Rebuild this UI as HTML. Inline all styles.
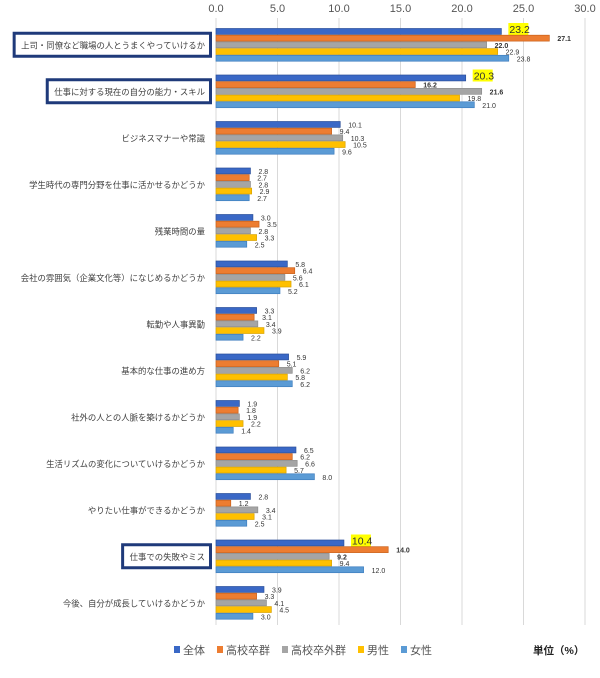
<!DOCTYPE html>
<html><head><meta charset="utf-8">
<style>
body{margin:0;background:#fff;width:600px;height:673px;overflow:hidden;font-family:"Liberation Sans","Noto Sans CJK JP",sans-serif}
svg text{font-family:"Liberation Sans","Noto Sans CJK JP",sans-serif}
</style></head>
<body>
<svg id="chart" width="600" height="673" xmlns="http://www.w3.org/2000/svg"></svg>
<script>
const categories=["上司・同僚など職場の人とうまくやっていけるか","仕事に対する現在の自分の能力・スキル","ビジネスマナーや常識","学生時代の専門分野を仕事に活かせるかどうか","残業時間の量","会社の雰囲気（企業文化等）になじめるかどうか","転勤や人事異動","基本的な仕事の進め方","社外の人との人脈を築けるかどうか","生活リズムの変化についていけるかどうか","やりたい仕事ができるかどうか","仕事での失敗やミス","今後、自分が成長していけるかどうか"];
const seriesNames=["全体","高校卒群","高校卒外群","男性","女性"];
const s0=[23.2,20.3,10.1,2.8,3.0,5.8,3.3,5.9,1.9,6.5,2.8,10.4,3.9];
const s1=[27.1,16.2,9.4,2.7,3.5,6.4,3.1,5.1,1.8,6.2,1.2,14.0,3.3];
const s2=[22.0,21.6,10.3,2.8,2.8,5.6,3.4,6.2,1.9,6.6,3.4,9.2,4.1];
const s3=[22.9,19.8,10.5,2.9,3.3,6.1,3.9,5.8,2.2,5.7,3.1,9.4,4.5];
const s4=[23.8,21.0,9.6,2.7,2.5,5.2,2.2,6.2,1.4,8.0,2.5,12.0,3.0];
const ticks=[0,5,10,15,20,25,30];
const boxed=[0,1,11];
const series=[s0,s1,s2,s3,s4];
const fills=["#3a68c6","#ed7d31","#a5a5a5","#ffc000","#5b9bd5"];
const strokes=["#2a4f9a","#c9611b","#8c8c8c","#d9a300","#3f7fbf"];
const NS="http://www.w3.org/2000/svg";
const svg=document.getElementById('chart');
const x=v=>216+v*12.3;
const groupY=i=>28+i*46.5;
const barH=6.7;
function el(t,a,txt){const e=document.createElementNS(NS,t);for(const k in a)e.setAttribute(k,a[k]);if(txt!=null)e.textContent=txt;svg.appendChild(e);return e;}
ticks.forEach(t=>{
  const g=el('line',{x1:x(t),x2:x(t),y1:18,y2:625,stroke:'#d9d9d9','stroke-width':1});
  
  
  const l=el('text',{x:x(t),y:12,'text-anchor':'middle','font-size':11,fill:'#555'},t.toFixed(1));
  
  
});
categories.forEach((c,i)=>{
  const gy=groupY(i);
  const cy=gy+2.5*barH;
  let b=null;
  if(boxed.includes(i)){
    b=el('rect',{x:0,y:cy-11.5,width:10,height:23,fill:'#fff',stroke:'#1f3a7a','stroke-width':3});
    
    
  }
  const t=el('text',{x:205,y:cy+3.5,'text-anchor':'end','font-size':8.4,fill:'#404040'},c);
  
  
  if(b){const bb=t.getBBox();b.setAttribute('x',bb.x-7);b.setAttribute('width',212-(bb.x-7)-1.5);}
  series.forEach((s,k)=>{
    const v=s[i];const y=gy+k*barH;
    const r=el('rect',{x:216,y:y+0.5,width:x(v)-216,height:barH-0.8,fill:fills[k],stroke:strokes[k],'stroke-width':0.7});
    
    
    const hl=(k===0&&boxed.includes(i));
    const bold=boxed.includes(i)&&(k===1||k===2);
    if(hl){
      const hb=el('rect',{x:x(v)+7,y:y-5,width:20,height:12,fill:'#ffff00'});
      
      
      const lt=el('text',{x:x(v)+8,y:y+5,'font-size':10.5,fill:'#333'},v.toFixed(1));
      
      
    }else{
      const lt=el('text',{x:x(v)+8,y:y+6.5,'font-size':7,fill:'#333','font-weight':bold?'bold':'normal'},v.toFixed(1));
      
      
    }
  });
});
let lx=174;
seriesNames.forEach((n,k)=>{
  const sw=el('rect',{x:lx,y:646,width:6,height:7,fill:fills[k]});
  
  
  const t=el('text',{x:lx+9,y:654,'font-size':11,fill:'#555'},n);
  
  
  lx+=9+n.length*11+12;
});
const u=el('text',{x:533,y:654,'font-size':10.5,'font-weight':'bold',fill:'#222'},'単位（%）');


</script>
</body></html>
